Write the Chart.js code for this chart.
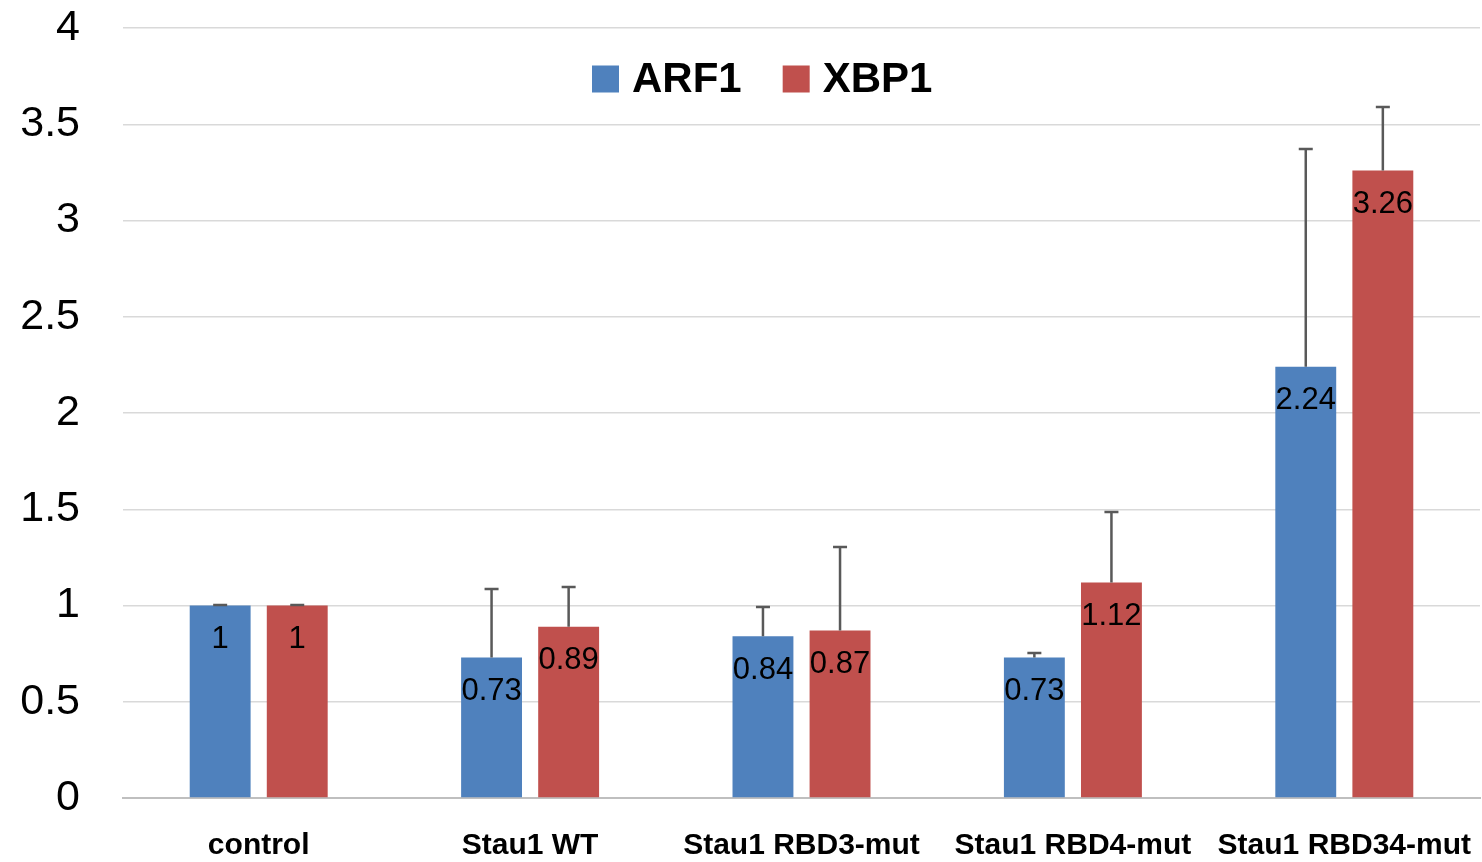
<!DOCTYPE html>
<html>
<head>
<meta charset="utf-8">
<script src="https://cdn.jsdelivr.net/npm/chart.js@4/dist/chart.umd.min.js"></script>
<style>
  html, body { margin: 0; padding: 0; background: #fff; }
  #wrap { width: 1482px; height: 862px; position: relative; }
</style>
</head>
<body>
<div id="wrap"><canvas id="c" width="1482" height="862"></canvas></div>
<script>
const categories = ["control", "Stau1 WT", "Stau1 RBD3-mut", "Stau1 RBD4-mut", "Stau1 RBD34-mut"];
const seriesNames = ["ARF1", "XBP1"];
const arf1Values = [1, 0.73, 0.84, 0.73, 2.24];
const xbp1Values = [1, 0.89, 0.87, 1.12, 3.26];
const arf1ErrPlus = [0.003, 0.356, 0.152, 0.023, 1.131];
const xbp1ErrPlus = [0.003, 0.206, 0.434, 0.366, 0.33];
const yTicks = [0, 0.5, 1, 1.5, 2, 2.5, 3, 3.5, 4];

const colors = ["#4F81BD", "#C0504D"];
const errs = [arf1ErrPlus, xbp1ErrPlus];

const errorBarPlugin = {
  id: 'errorBars',
  afterDatasetsDraw(chart) {
    const ctx = chart.ctx;
    const yScale = chart.scales.y;
    ctx.save();
    ctx.strokeStyle = '#595959';
    ctx.lineWidth = 2.5;
    chart.data.datasets.forEach((ds, di) => {
      const meta = chart.getDatasetMeta(di);
      meta.data.forEach((bar, i) => {
        const v = ds.data[i];
        const top = yScale.getPixelForValue(v + errs[di][i]);
        const base = yScale.getPixelForValue(v);
        ctx.beginPath();
        ctx.moveTo(bar.x, base);
        ctx.lineTo(bar.x, top);
        ctx.moveTo(bar.x - 7, top);
        ctx.lineTo(bar.x + 7, top);
        ctx.stroke();
      });
    });
    ctx.restore();
  }
};

const dataLabelPlugin = {
  id: 'dataLabels',
  afterDatasetsDraw(chart) {
    const ctx = chart.ctx;
    ctx.save();
    ctx.font = '31px "Liberation Sans", Arial, sans-serif';
    ctx.fillStyle = '#000';
    ctx.textAlign = 'center';
    ctx.textBaseline = 'middle';
    chart.data.datasets.forEach((ds, di) => {
      const meta = chart.getDatasetMeta(di);
      meta.data.forEach((bar, i) => {
        ctx.fillText(String(ds.data[i]), bar.x, bar.y + 34);
      });
    });
    ctx.restore();
  }
};

const legendPlugin = {
  id: 'customLegend',
  afterDraw(chart) {
    const ctx = chart.ctx;
    ctx.save();
    ctx.font = 'bold 42px "Liberation Sans", Arial, sans-serif';
    ctx.textBaseline = 'middle';
    ctx.textAlign = 'left';
    const cy = 79;
    const box = 27;
    const startX = 592;
    let x = startX;
    chart.data.datasets.forEach((ds, di) => {
      ctx.fillStyle = ds.backgroundColor;
      ctx.fillRect(x, cy - box / 2, box, box);
      x += box + 13;
      ctx.fillStyle = '#000';
      ctx.fillText(ds.label, x, cy + 1);
      x += ctx.measureText(ds.label).width + 41;
    });
    ctx.restore();
  }
};

new Chart(document.getElementById('c'), {
  type: 'bar',
  data: {
    labels: categories,
    datasets: [
      { label: seriesNames[0], data: arf1Values, backgroundColor: colors[0], categoryPercentage: 0.568, barPercentage: 0.79 },
      { label: seriesNames[1], data: xbp1Values, backgroundColor: colors[1], categoryPercentage: 0.568, barPercentage: 0.79 }
    ]
  },
  options: {
    responsive: false,
    animation: false,
    layout: { padding: { top: 28, right: 2, left: 0, bottom: 0 } },
    plugins: {
      legend: { display: false },
      tooltip: { enabled: false }
    },
    scales: {
      x: {
        grid: { display: false, drawTicks: false },
        border: { display: true, color: '#BFBFBF', width: 2 },
        ticks: {
          color: '#000',
          padding: 30,
          maxRotation: 0,
          minRotation: 0,
          autoSkip: false,
          font: { family: '"Liberation Sans", Arial, sans-serif', weight: 'bold', size: 30 }
        },
        afterFit(s) { s.height = 64; s.paddingLeft = 0; s.paddingRight = 0; }
      },
      y: {
        min: 0,
        max: 4,
        afterBuildTicks(s) { s.ticks = yTicks.map(v => ({ value: v })); },
        grid: { color: '#D9D9D9', lineWidth: 1.5, drawTicks: false },
        border: { display: false },
        ticks: {
          color: '#000',
          padding: 43,
          font: { family: '"Liberation Sans", Arial, sans-serif', size: 43 },
          callback: (v) => String(v)
        },
        afterFit(s) { s.width = 123; s.paddingTop = 0; s.paddingBottom = 0; }
      }
    }
  },
  plugins: [errorBarPlugin, dataLabelPlugin, legendPlugin]
});
</script>
</body>
</html>
